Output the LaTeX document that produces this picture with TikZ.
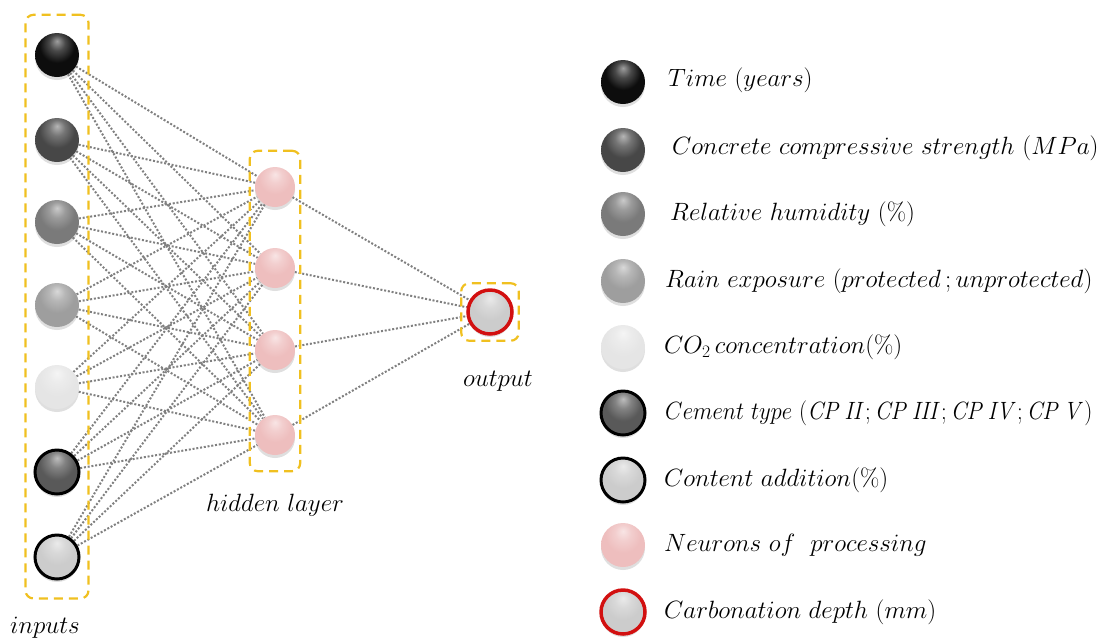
\RequirePackage{fix-cm}
\documentclass[tikz,border=0pt]{standalone}
\usepackage{amsmath}
\usepackage{graphicx}
\usetikzlibrary{positioning, fit, backgrounds, shadows}

\definecolor{layerbox}{RGB}{240,192,32}
\definecolor{linkgray}{RGB}{128,128,128}
\definecolor{neuronpink}{RGB}{238,190,190}
\definecolor{depthred}{RGB}{210,16,16}
\colorlet{unitcol}{gray}

% glossy bead: light cap on top, darker rim at the bottom
\pgfdeclareradialshading[unitcol]{glossy}{\pgfpoint{0bp}{16bp}}{%
  color(0bp)=(unitcol!40!white); color(9bp)=(unitcol!75!white);
  color(20bp)=(unitcol); color(44bp)=(unitcol);
  color(54bp)=(unitcol!78!black); color(66bp)=(unitcol!55!black)}

\tikzset{
  unitfill/.code={\colorlet{unitcol}{#1}},
  unit/.style={circle, minimum size=44pt, inner sep=0pt, unitfill=#1, shading=glossy,
    drop shadow={opacity=0.25, shadow xshift=0pt, shadow yshift=-3pt}},
  ringunit/.style={unit=#1, draw=black, line width=3pt},
  redunit/.style={unit=#1, draw=depthred, line width=3.5pt},
  hidunit/.style={unit=neuronpink, minimum size=40pt},
  link/.style={linkgray, line width=2pt, dash pattern=on 2pt off 1.8pt},
  layer/.style={draw=layerbox, line width=2.2pt, dash pattern=on 9pt off 6pt, rounded corners=8pt},
  legtext/.style={right, inner sep=0pt}
}

\begin{document}
\begin{tikzpicture}[x=1pt, y=-1pt, font=\fontsize{25}{30}\selectfont]
  \useasboundingbox (0,0) rectangle (1107,641);

  % input neurons
  \node[unit=black!95] (in1) at (57,55) {};
  \node[unit=black!72] (in2) at (57,140) {};
  \node[unit=black!52] (in3) at (57,222) {};
  \node[unit=black!38] (in4) at (57,305) {};
  \node[unit=black!10] (in5) at (57,387) {};
  \node[ringunit=black!65] (in6) at (57,472) {};
  \node[ringunit=black!20] (in7) at (57,557) {};

  % hidden layer
  \node[hidunit] (hid1) at (275,187) {};
  \node[hidunit] (hid2) at (275,268) {};
  \node[hidunit] (hid3) at (275,350) {};
  \node[hidunit] (hid4) at (275,435) {};

  % output neuron
  \node[redunit=black!20] (out) at (490,312) {};

  % links behind the neurons
  \begin{pgfonlayer}{background}
    \foreach \i in {1,...,7}
      \foreach \j in {1,...,4}
        \draw[link] (in\i) -- (hid\j);
    \foreach \j in {1,...,4}
      \draw[link] (hid\j) -- (out);
  \end{pgfonlayer}

  % dashed frames round each layer
  \node[layer, fit=(in1)(in7), inner xsep=8pt, inner ysep=18pt] (inbox) {};
  \node[layer, fit=(hid1)(hid4), inner xsep=5pt, inner ysep=16pt] (hidbox) {};
  \node[layer, fit=(out), inner sep=5pt] (outbox) {};

  \node[below=14pt of inbox.south, xshift=-12pt] (inlabel) {$inputs$};
  \node[below=18pt of hidbox.south] (hidlabel) {$hidden\ layer$};
  \node[below=26pt of outbox.south, xshift=8pt] (outlabel) {$output$};

  % legend
  \node[unit=black!95] (k1) at (623,82) {};
  \node[unit=black!72] (k2) at (623,150) {};
  \node[unit=black!52] (k3) at (623,214) {};
  \node[unit=black!38] (k4) at (623,281) {};
  \node[unit=black!10] (k5) at (623,347) {};
  \node[ringunit=black!65] (k6) at (623,413) {};
  \node[ringunit=black!20] (k7) at (623,480) {};
  \node[unit=neuronpink] (k8) at (623,545) {};
  \node[redunit=black!20] (k9) at (623,612) {};

  \node[legtext] (t1) at (668,80) {$Time\ (years)$};
  \node[legtext] (t2) at (672,148) {$Concrete\ compressive\ strength\ (MPa)$};
  \node[legtext] (t3) at (670,214) {$Relative\ humidity\ (\%)$};
  \node[legtext] (t4) at (665,281) {$Rain\ exposure\ (protected\,;unprotected)$};
  \node[legtext] (t5) at (664,347) {$CO_2\,concentration(\%)$};
  \node[legtext] (t6) at (665,413) {\scalebox{0.91}[1]{$Cement\ type\ (\mathit{CP\,II};\mathit{CP\,III};\mathit{CP\,IV};\mathit{CP\,V})$}};
  \node[legtext] (t7) at (664,480) {$Content\ addition(\%)$};
  \node[legtext] (t8) at (664,545) {$Neurons\ of\ \ processing$};
  \node[legtext] (t9) at (664,612) {$Carbonation\ depth\ (mm)$};
\end{tikzpicture}
\end{document}
